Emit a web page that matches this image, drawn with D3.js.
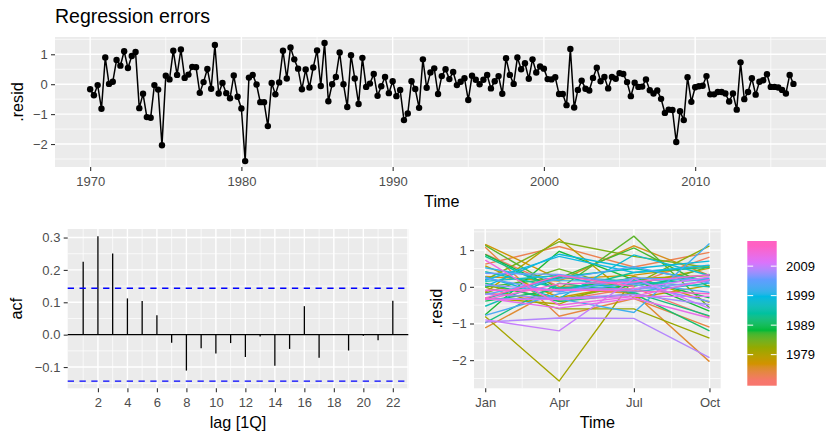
<!DOCTYPE html>
<html><head><meta charset="utf-8">
<script src="https://cdn.jsdelivr.net/npm/d3@7"></script>
<style>
body{margin:0;background:#fff}
svg{display:block;font-family:"Liberation Sans",Arial,Helvetica,sans-serif}
</style>
</head><body>
<svg id="chart" width="826" height="433"></svg>
<script>
// ---------------- data ----------------
const startYear = 1970;
const resid = [
  -0.17, -0.37, -0.03, -0.82,
   0.89,  0.01,  0.08,  0.81,
   0.62,  1.10,  0.54,  0.94,
   1.08, -0.80, -0.32, -1.10,
  -1.12, -0.03, -0.18, -2.04,
   0.28,  0.16,  1.12,  0.31,
   1.16,  0.21,  0.32,  0.58,
   0.57, -0.29,  0.07,  0.51,
  -0.15,  1.31, -0.31,  0.04,
  -0.30, -0.47,  0.29, -0.42,
  -0.81, -2.57,  0.22,  0.31,
  -0.01, -0.60, -0.60, -1.40,
   0.04, -0.34,  0.06,  1.12,
   0.19,  1.23,  0.83,  0.52,
  -0.17,  0.49, -0.11,  0.56,
   1.13, -0.06,  1.38, -0.57,
   0.00,  0.24,  1.06,  0.00,
  -0.76,  0.97,  0.19, -0.66,
   0.88, -0.09,  0.02,  0.34,
  -0.39, -0.07,  0.24, -0.30,
   0.10, -0.40, -0.19, -1.20,
  -0.98,  0.10, -0.16, -0.79,
   0.83, -0.12,  0.39,  0.53,
  -0.33,  0.27,  0.50,  0.17,
   0.41, -0.03,  0.08,  0.20,
  -0.53,  0.28,  0.15,  0.00,
   0.15,  0.31, -0.14,  0.10,
   0.27, -0.32,  0.87,  0.31,
   0.01,  0.89,  0.50,  0.70,
   0.18,  0.83,  0.39,  0.59,
   0.52,  0.17,  0.16,  0.23,
  -0.33, -0.33, -0.70,  1.18,
  -0.78, -0.19,  0.12, -0.15,
  -0.21,  0.21,  0.55,  0.10,
   0.24, -0.14,  0.24,  0.18,
   0.37,  0.34,  0.07, -0.40,
   0.05, -0.09, -0.08,  0.16,
  -0.20, -0.31, -0.21, -0.49,
  -0.96, -0.85, -0.86, -1.93,
  -0.90, -1.20,  0.23, -0.59,
  -0.10, -0.07, -0.05,  0.27,
  -0.34, -0.34, -0.26, -0.26,
  -0.31, -0.58, -0.31, -0.85,
   0.73, -0.50, -0.26,  0.20,
  -0.35,  0.08,  0.13,  0.33,
  -0.09, -0.09, -0.11, -0.19,
  -0.31,  0.31,  0.01
];
const acfLags = [1,2,3,4,5,6,7,8,9,10,11,12,13,14,15,16,17,18,19,20,21,22];
const acfValues = [0.225, 0.304, 0.251, 0.112, 0.104, 0.060, -0.025, -0.111, -0.042, -0.058, -0.026,
                   -0.069, -0.006, -0.096, -0.044, 0.088, -0.071, 0.002, -0.049, -0.003, -0.017, 0.105];
const ciBound = 0.1433;
const yearTicks = [1970, 1980, 1990, 2000, 2010];
const yearMinorTicks = [1975, 1985, 1995, 2005, 2015];
const residTicks = [-2, -1, 0, 1];
const residMinorTicks = [-2.5, -1.5, -0.5, 0.5, 1.5];
const acfTicks = [-0.1, 0, 0.1, 0.2, 0.3];
const acfMinorTicks = [-0.15, -0.05, 0.05, 0.15, 0.25];
const lagTicks = [2,4,6,8,10,12,14,16,18,20,22];
const lagMinorTicks = [1,3,5,7,9,11,13,15,17,19,21,23];
const monthLabels = ["Jan", "Apr", "Jul", "Oct"];
const legendBreaks = [1979, 1989, 1999, 2009];
const hueColours = ["#F8766D","#D39200","#93AA00","#00BA38","#00C19F","#00B9E3","#619CFF","#DB72FB","#FF61C3"];

// ---------------- helpers ----------------
const svg = d3.select("#chart");
const PANEL_BG = "#EBEBEB", TICK_TXT = "#4D4D4D", TICK_LINE = "#333333";
const TICK_FS = 13, TITLE_FS = 16.2;

function expand(ext, f = 0.05) { const s = ext[1] - ext[0]; return [ext[0] - s * f, ext[1] + s * f]; }

function panel(P) {
  svg.append("rect").attr("x", P.l).attr("y", P.t).attr("width", P.r - P.l).attr("height", P.b - P.t).attr("fill", PANEL_BG);
}
function hLines(g, y, vals, P, w) {
  g.selectAll(null).data(vals).join("line")
    .attr("x1", P.l).attr("x2", P.r).attr("y1", d => y(d)).attr("y2", d => y(d))
    .attr("stroke", "#fff").attr("stroke-width", w);
}
function vLines(g, x, vals, P, w) {
  g.selectAll(null).data(vals).join("line")
    .attr("y1", P.t).attr("y2", P.b).attr("x1", d => x(d)).attr("x2", d => x(d))
    .attr("stroke", "#fff").attr("stroke-width", w);
}
function styleAxis(g) {
  g.select(".domain").remove();
  g.selectAll(".tick line").attr("stroke", TICK_LINE).attr("stroke-width", 1.1);
  g.selectAll(".tick text").attr("fill", TICK_TXT).attr("font-size", TICK_FS)
    .attr("font-family", '"Liberation Sans",Arial,Helvetica,sans-serif');
}
function leftAxis(y, vals, fmt, P) {
  const g = svg.append("g").attr("transform", `translate(${P.l},0)`)
    .call(d3.axisLeft(y).tickValues(vals).tickFormat(fmt).tickSize(4).tickPadding(3.3));
  styleAxis(g);
}
function bottomAxis(x, vals, fmt, P) {
  const g = svg.append("g").attr("transform", `translate(0,${P.b})`)
    .call(d3.axisBottom(x).tickValues(vals).tickFormat(fmt).tickSize(4).tickPadding(5.7));
  styleAxis(g);
}
function xTitle(txt, cx, y) {
  svg.append("text").attr("x", cx).attr("y", y).attr("text-anchor", "middle")
    .attr("font-size", TITLE_FS).attr("fill", "#000").text(txt);
}
function yTitle(txt, x, cy) {
  svg.append("text").attr("transform", `translate(${x},${cy}) rotate(-90)`).attr("text-anchor", "middle")
    .attr("font-size", TITLE_FS).attr("fill", "#000").text(txt);
}

const residDomain = expand(d3.extent(resid));
const colour = d3.scaleLinear()
  .domain(hueColours.map((c, k) => 1970 + k * (2016 - 1970) / (hueColours.length - 1)))
  .range(hueColours).interpolate(d3.interpolateLab).clamp(true);

// ---------------- title ----------------
svg.append("text").attr("x", 55).attr("y", 22.7).attr("font-size", 19.5).attr("fill", "#000").text("Regression errors");

// ---------------- top panel: time plot ----------------
const P1 = {l: 55, r: 828.6, t: 37, b: 167};
const qDates = resid.map((v, i) => new Date(Date.UTC(startYear + Math.floor(i / 4), (i % 4) * 3, 1)));
const tExt = d3.extent(qDates);
const tSpan = tExt[1] - tExt[0];
const x1 = d3.scaleUtc().domain([new Date(+tExt[0] - 0.05 * tSpan), new Date(+tExt[1] + 0.05 * tSpan)]).range([P1.l, P1.r]);
const y1 = d3.scaleLinear().domain(residDomain).range([P1.b, P1.t]);
panel(P1);
const g1 = svg.append("g");
const yrDate = y => new Date(Date.UTC(y, 0, 1));
hLines(g1, y1, residMinorTicks.filter(v => v > residDomain[0] && v < residDomain[1]), P1, 0.7);
vLines(g1, x1, yearMinorTicks.map(yrDate).filter(d => x1(d) < P1.r), P1, 0.7);
hLines(g1, y1, residTicks, P1, 1.4);
vLines(g1, x1, yearTicks.map(yrDate), P1, 1.4);
const line1 = d3.line().x((d, i) => x1(qDates[i])).y(d => y1(d));
g1.append("path").datum(resid).attr("d", line1).attr("fill", "none").attr("stroke", "#000").attr("stroke-width", 1.5);
g1.selectAll(null).data(resid).join("circle")
  .attr("cx", (d, i) => x1(qDates[i])).attr("cy", d => y1(d)).attr("r", 3.2).attr("fill", "#000");
leftAxis(y1, residTicks, d3.format("d"), P1);
bottomAxis(x1, yearTicks.map(yrDate), d3.utcFormat("%Y"), P1);
xTitle("Time", (P1.l + P1.r) / 2, 206.5);
yTitle(".resid", 22.7, (P1.t + P1.b) / 2);

// ---------------- bottom left: ACF ----------------
const P2 = {l: 67.7, r: 408.3, t: 229, b: 388.3};
const x2 = d3.scaleLinear().domain(expand(d3.extent(acfLags))).range([P2.l, P2.r]);
const acfDomain = expand([Math.min(d3.min(acfValues), -ciBound), Math.max(d3.max(acfValues), ciBound)]);
const y2 = d3.scaleLinear().domain(acfDomain).range([P2.b, P2.t]);
panel(P2);
const g2 = svg.append("g");
hLines(g2, y2, acfMinorTicks, P2, 0.7);
vLines(g2, x2, lagMinorTicks.filter(v => x2(v) <= P2.r), P2, 0.7);
hLines(g2, y2, acfTicks, P2, 1.4);
vLines(g2, x2, lagTicks, P2, 1.4);
g2.selectAll(null).data(acfValues).join("line")
  .attr("x1", (d, i) => x2(acfLags[i])).attr("x2", (d, i) => x2(acfLags[i]))
  .attr("y1", y2(0)).attr("y2", d => y2(d)).attr("stroke", "#000").attr("stroke-width", 1.3);
g2.append("line").attr("x1", P2.l).attr("x2", P2.r).attr("y1", y2(0)).attr("y2", y2(0))
  .attr("stroke", "#000").attr("stroke-width", 1.3);
g2.selectAll(null).data([ciBound, -ciBound]).join("line")
  .attr("x1", P2.l).attr("x2", P2.r).attr("y1", d => y2(d)).attr("y2", d => y2(d))
  .attr("stroke", "#0000FF").attr("stroke-width", 1.3).attr("stroke-dasharray", "6.3,5.5");
leftAxis(y2, acfTicks, d3.format(".1f"), P2);
bottomAxis(x2, lagTicks, d3.format("d"), P2);
xTitle("lag [1Q]", (P2.l + P2.r) / 2, 427.5);
yTitle("acf", 21.7, (P2.t + P2.b) / 2);

// ---------------- bottom right: seasonal plot ----------------
const P3 = {l: 474, r: 720.7, t: 229, b: 388.3};
const refYear = 2001;
const monthDates = monthLabels.map((m, k) => new Date(Date.UTC(refYear, k * 3, 1)));
const mSpan = monthDates[3] - monthDates[0];
const x3 = d3.scaleUtc().domain([new Date(+monthDates[0] - 0.05 * mSpan), new Date(+monthDates[3] + 0.05 * mSpan)]).range([P3.l, P3.r]);
const y3 = d3.scaleLinear().domain(residDomain).range([P3.b, P3.t]);
panel(P3);
const g3 = svg.append("g");
const monthMinor = d3.pairs(monthDates).map(([a, b]) => new Date((+a + +b) / 2));
hLines(g3, y3, residMinorTicks.filter(v => v > residDomain[0] && v < residDomain[1]), P3, 0.7);
vLines(g3, x3, monthMinor, P3, 0.7);
hLines(g3, y3, residTicks, P3, 1.4);
vLines(g3, x3, monthDates, P3, 1.4);
const byYear = d3.groups(resid.map((v, i) => ({year: startYear + Math.floor(i / 4), q: i % 4, v})), d => d.year);
const line3 = d3.line().x(d => x3(monthDates[d.q])).y(d => y3(d.v));
g3.selectAll(null).data(byYear).join("path")
  .attr("d", d => line3(d[1])).attr("fill", "none")
  .attr("stroke", d => colour(d[0])).attr("stroke-width", 1.4);
leftAxis(y3, residTicks, d3.format("d"), P3);
bottomAxis(x3, monthDates, (d, i) => monthLabels[i], P3);
xTitle("Time", (P3.l + P3.r) / 2, 427.5);
yTitle(".resid", 441.7, (P3.t + P3.b) / 2);

// ---------------- legend (colour bar) ----------------
const LB = {x: 747.3, w: 29.4, top: 241, bottom: 385.7};
const legendY = d3.scaleLinear().domain([1970, 2016]).range([381.2, 245.5]);
const defs = svg.append("defs");
const grad = defs.append("linearGradient").attr("id", "yearGrad")
  .attr("x1", 0).attr("y1", 1).attr("x2", 0).attr("y2", 0);
const NSTOP = 60;
grad.selectAll("stop").data(d3.range(NSTOP + 1)).join("stop")
  .attr("offset", k => k / NSTOP)
  .attr("stop-color", k => colour(legendY.invert(LB.bottom - (k / NSTOP) * (LB.bottom - LB.top))));
svg.append("rect").attr("x", LB.x).attr("y", LB.top).attr("width", LB.w).attr("height", LB.bottom - LB.top)
  .attr("fill", "url(#yearGrad)");
const tl = LB.w / 5;
const lg = svg.append("g");
lg.selectAll(null).data(legendBreaks).join("line")
  .attr("x1", LB.x).attr("x2", LB.x + tl).attr("y1", d => legendY(d)).attr("y2", d => legendY(d))
  .attr("stroke", "#fff").attr("stroke-width", 1);
lg.selectAll(null).data(legendBreaks).join("line")
  .attr("x1", LB.x + LB.w - tl).attr("x2", LB.x + LB.w).attr("y1", d => legendY(d)).attr("y2", d => legendY(d))
  .attr("stroke", "#fff").attr("stroke-width", 1);
lg.selectAll(null).data(legendBreaks).join("text")
  .attr("x", 786).attr("y", d => legendY(d)).attr("dy", "0.35em")
  .attr("font-size", TICK_FS).attr("fill", "#000").text(d => d);
</script>
</body></html>
